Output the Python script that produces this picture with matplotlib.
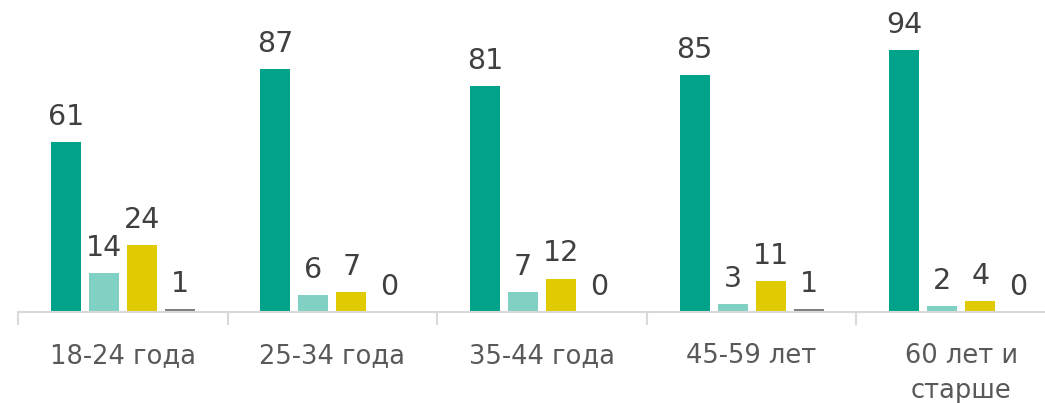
import matplotlib
matplotlib.use("Agg")
import matplotlib.pyplot as plt
import numpy as np

categories = ["18-24 года", "25-34 года", "35-44 года", "45-59 лет", "60 лет и\nстарше"]
series_a = [61, 87, 81, 85, 94]
series_b = [14, 6, 7, 3, 2]
series_c = [24, 7, 12, 11, 4]
series_d = [1, 0, 0, 1, 0]

colors = ["#00A38A", "#80D1C4", "#E0CB00", "#7F7F7F"]

W, H = 1045, 403
fig = plt.figure(figsize=(W / 100, H / 100), dpi=100)
cat_w = 209.6
left = 18
ax = fig.add_axes([left / W, 91 / H, 5 * cat_w / W, 312 / H])

x = np.arange(len(categories))
bw = 30 / cat_w
step = 38 / cat_w
offsets = [-1.5 * step, -0.5 * step, 0.5 * step, 1.5 * step]
for data, col, off in zip([series_a, series_b, series_c, series_d], colors, offsets):
    bars = ax.bar(x + off, data, width=bw, color=col, zorder=2)
    for xi, v in zip(x + off, data):
        ax.annotate(str(v), (xi, v), xytext=(0, 8), textcoords="offset points",
                    ha="center", va="bottom", fontsize=20.5, color="#404040",
                    family="DejaVu Sans")

ax.set_xlim(-0.5, len(categories) - 0.5)
ax.set_ylim(0, 111.8)
for s in ["top", "right", "left"]:
    ax.spines[s].set_visible(False)
ax.spines["bottom"].set_color("#D9D9D9")
ax.spines["bottom"].set_linewidth(1.5)
ax.set_yticks([])
ax.set_xticks(x)
ax.set_xticklabels(categories, fontsize=18.5, color="#595959", family="DejaVu Sans",
                   linespacing=1.45, va="top")
ax.tick_params(axis="x", which="major", length=0, pad=22)
ax.set_xticks(np.arange(len(categories) + 1) - 0.5, minor=True)
ax.tick_params(axis="x", which="minor", length=9, width=1.5, color="#D9D9D9")
ax.patch.set_visible(False)

fig.savefig("out.png", dpi=100)
